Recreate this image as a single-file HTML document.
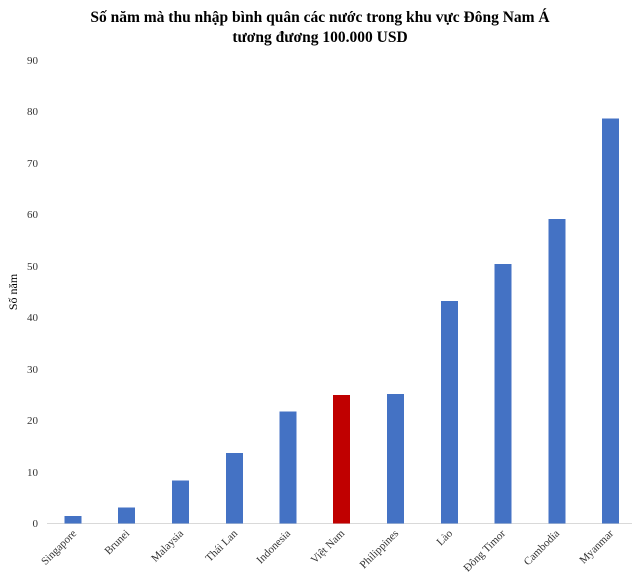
<!DOCTYPE html><html><head><meta charset="utf-8"><style>body{margin:0;background:#fff}</style></head><body>
<svg width="640" height="582" xmlns="http://www.w3.org/2000/svg" font-family="Liberation Serif, serif">
<text x="320" y="22" text-anchor="middle" font-weight="bold" font-size="15.5">Số năm mà thu nhập bình quân các nước trong khu vực Đông Nam Á</text>
<text x="320" y="42" text-anchor="middle" font-weight="bold" font-size="15.5">tương đương 100.000 USD</text>
<line x1="47" y1="523.5" x2="632" y2="523.5" stroke="#d9d9d9" stroke-width="1"/>
<g font-size="11" text-anchor="end" fill="#333">
<text x="38" y="527">0</text><text x="38" y="476">10</text><text x="38" y="424">20</text><text x="38" y="373">30</text><text x="38" y="321">40</text><text x="38" y="270">50</text><text x="38" y="218">60</text><text x="38" y="167">70</text><text x="38" y="115">80</text><text x="38" y="64">90</text>
</g>
<text transform="translate(17,292) rotate(-90)" text-anchor="middle" font-size="12">Số năm</text>
<g fill="#4472c4">
<rect x="64.5" y="516" width="17" height="7.5"/>
<rect x="118" y="507.5" width="17" height="16"/>
<rect x="172" y="480.5" width="17" height="43"/>
<rect x="226" y="453" width="17" height="70.5"/>
<rect x="279.5" y="411.5" width="17" height="112"/>
<rect x="387" y="394" width="17" height="129.5"/>
<rect x="441" y="301" width="17" height="222.5"/>
<rect x="494.5" y="264" width="17" height="259.5"/>
<rect x="548.5" y="219" width="17" height="304.5"/>
<rect x="602" y="118.5" width="17" height="405"/>
</g>
<rect x="333" y="395" width="17" height="128.5" fill="#c00000"/>
<g font-size="11" text-anchor="end" fill="#333">
<text transform="translate(77,534) rotate(-45)">Singapore</text>
<text transform="translate(130,534) rotate(-45)">Brunei</text>
<text transform="translate(184,534) rotate(-45)">Malaysia</text>
<text transform="translate(238,534) rotate(-45)">Thái Lan</text>
<text transform="translate(291,534) rotate(-45)">Indonesia</text>
<text transform="translate(345,534) rotate(-45)">Việt Nam</text>
<text transform="translate(399,534) rotate(-45)">Philippines</text>
<text transform="translate(453,534) rotate(-45)">Lào</text>
<text transform="translate(506,534) rotate(-45)">Đông Timor</text>
<text transform="translate(560,534) rotate(-45)">Cambodia</text>
<text transform="translate(614,534) rotate(-45)">Myanmar</text>
</g>
</svg></body></html>
